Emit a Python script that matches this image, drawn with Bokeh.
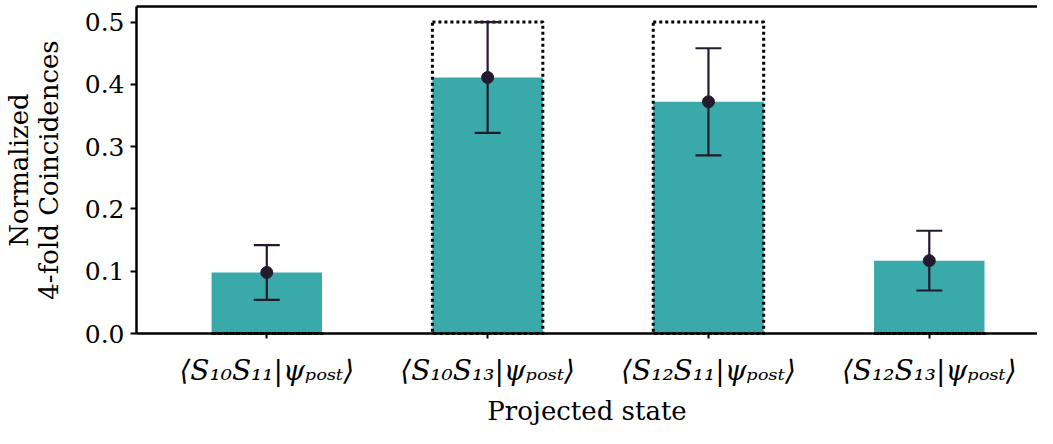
from bokeh.plotting import figure
from bokeh.models import (Range1d, FixedTicker, LinearAxis, Whisker, ColumnDataSource,
                          TeeHead, NumeralTickFormatter)
from bokeh.embed import file_html
from bokeh.resources import INLINE

# ---- data ----
states = ["⟨S₁₀S₁₁|ψₚₒₛₜ⟩", "⟨S₁₀S₁₃|ψₚₒₛₜ⟩", "⟨S₁₂S₁₁|ψₚₒₛₜ⟩", "⟨S₁₂S₁₃|ψₚₒₛₜ⟩"]
measured = [0.098, 0.411, 0.372, 0.117]
errors = [0.044, 0.089, 0.086, 0.048]
ideal = [0.0, 0.5, 0.5, 0.0]
y_ticks = [0.0, 0.1, 0.2, 0.3, 0.4, 0.5]

TEAL = "#3aa9aa"
DARK = "#241a2e"
FONT = "DejaVu Serif"

xs = list(range(len(states)))
src = ColumnDataSource(dict(
    x=xs, measured=measured, ideal=ideal,
    upper=[m + e for m, e in zip(measured, errors)],
    lower=[m - e for m, e in zip(measured, errors)],
))

p = figure(width=1037, height=428, output_backend="svg", toolbar_location=None,
           x_range=Range1d(-0.59, 3.49), y_range=Range1d(0, 0.525),
           min_border_left=0, min_border_right=0, min_border_top=6, min_border_bottom=0,
           x_axis_label="Projected state",
           y_axis_label="Normalized\n4-fold Coincidences")
p.outline_line_color = None
p.xgrid.visible = False
p.ygrid.visible = False
p.background_fill_color = "white"
p.border_fill_color = "white"

# bars
p.vbar(x="x", top="measured", width=0.5, source=src, fill_color=TEAL, line_color=None)
p.vbar(x="x", top="ideal", bottom=0, width=0.5, source=src, fill_color=None,
       line_color="black", line_width=3, line_dash="3 3", line_join="round",
       level="overlay")

# error bars
wh = Whisker(base="x", upper="upper", lower="lower", source=src, level="overlay",
             line_color=DARK, line_width=2.2,
             upper_head=TeeHead(size=26, line_color=DARK, line_width=2.2),
             lower_head=TeeHead(size=26, line_color=DARK, line_width=2.2))
p.add_layout(wh)
p.scatter(x="x", y="measured", source=src, size=12, color=DARK, level="overlay")

# axes
xa = p.xaxis[0]
xa.ticker = FixedTicker(ticks=xs)
xa.major_label_overrides = {i: s for i, s in zip(xs, states)}
xa.minor_tick_line_color = None
xa.major_tick_out = 5
xa.major_tick_in = 0
xa.major_tick_line_width = 2
xa.axis_line_width = 2.5
xa.major_label_standoff = 15
xa.major_label_text_font = FONT
xa.major_label_text_font_size = "28px"
xa.major_label_text_font_style = "italic"
xa.major_label_text_color = "black"
xa.axis_label_text_font = FONT
xa.axis_label_text_font_size = "26px"
xa.axis_label_text_font_style = "normal"
xa.axis_label_text_color = "black"
xa.axis_label_standoff = 6

ya = p.yaxis[0]
ya.ticker = FixedTicker(ticks=y_ticks)
ya.formatter = NumeralTickFormatter(format="0.0")
ya.minor_tick_line_color = None
ya.major_tick_out = 6
ya.major_tick_in = 0
ya.major_tick_line_width = 2
ya.axis_line_width = 2.5
ya.major_label_standoff = 6
ya.major_label_text_font = FONT
ya.major_label_text_font_size = "25px"
ya.major_label_text_color = "black"
ya.axis_label_text_font = FONT
ya.axis_label_text_font_size = "26px"
ya.axis_label_text_font_style = "normal"
ya.axis_label_text_color = "black"
ya.axis_label_text_line_height = 1.0
ya.axis_label_standoff = 18

top = LinearAxis(ticker=FixedTicker(ticks=[]), axis_line_width=2.5,
                 major_tick_line_color=None, minor_tick_line_color=None,
                 major_label_text_font_size="0px", major_label_standoff=0)
p.add_layout(top, "above")

open("out.html", "w").write(file_html(p, INLINE))
